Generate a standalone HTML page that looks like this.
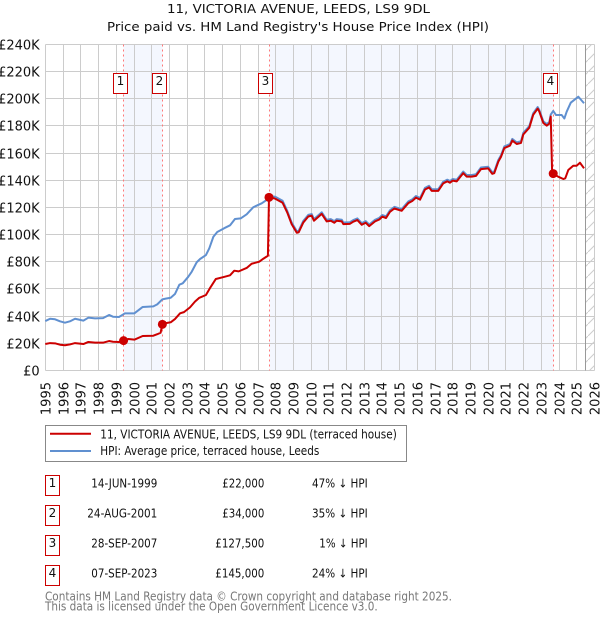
<!DOCTYPE html>
<html lang="en">
<head>
<meta charset="utf-8">
<title>11, Victoria Avenue, Leeds, LS9 9DL</title>
<style>
html,body{margin:0;padding:0;background:#fff;width:600px;height:620px;overflow:hidden}
svg{display:block}
text{font-family:"DejaVu Sans","Liberation Sans",sans-serif;fill:#111}
</style>
</head>
<body>
<svg id="chart" xmlns="http://www.w3.org/2000/svg" width="600" height="620" viewBox="0 0 600 620">
  <defs>
    <pattern id="hatch" patternUnits="userSpaceOnUse" width="12" height="12">
      <path d="M0 12L12 0" stroke="#ccc" stroke-width="1" fill="none"/>
    </pattern>
  </defs>
  <text x="167" y="13" font-size="12.8" textLength="263" lengthAdjust="spacingAndGlyphs">11, VICTORIA AVENUE, LEEDS, LS9 9DL</text>
  <text x="107" y="31" font-size="12.8" textLength="382" lengthAdjust="spacingAndGlyphs">Price paid vs. HM Land Registry's House Price Index (HPI)</text>
  <g id="plot"></g>

  <g>
    <rect x="45.5" y="425.5" width="361" height="36" fill="#fff" stroke="#888"/>
    <line x1="50" x2="91" y1="433.7" y2="433.7" stroke="#cc0000" stroke-width="2"/>
    <text x="100.3" y="438.3" font-size="12" textLength="296.5" lengthAdjust="spacingAndGlyphs">11, VICTORIA AVENUE, LEEDS, LS9 9DL (terraced house)</text>
    <line x1="50" x2="91" y1="451" y2="451" stroke="#6090d0" stroke-width="2"/>
    <text x="100.3" y="455" font-size="12" textLength="219" lengthAdjust="spacingAndGlyphs">HPI: Average price, terraced house, Leeds</text>
  </g>

  <g>
    <g>
      <rect x="45.5" y="475.5" width="14" height="20" fill="#fff" stroke="#c00"/>
      <text x="52.5" y="487" text-anchor="middle" font-size="12">1</text>
      <text x="91.3" y="487.5" font-size="12" textLength="66" lengthAdjust="spacingAndGlyphs">14-JUN-1999</text>
      <text x="222.3" y="487.5" font-size="12" textLength="42" lengthAdjust="spacingAndGlyphs">£22,000</text>
      <text x="312" y="487.5" font-size="12" textLength="55.7" lengthAdjust="spacingAndGlyphs">47% ↓ HPI</text>
    </g>
    <g>
      <rect x="45.5" y="505.5" width="14" height="20" fill="#fff" stroke="#c00"/>
      <text x="52.5" y="517" text-anchor="middle" font-size="12">2</text>
      <text x="87.3" y="517.5" font-size="12" textLength="70" lengthAdjust="spacingAndGlyphs">24-AUG-2001</text>
      <text x="222.3" y="517.5" font-size="12" textLength="42" lengthAdjust="spacingAndGlyphs">£34,000</text>
      <text x="312" y="517.5" font-size="12" textLength="55.7" lengthAdjust="spacingAndGlyphs">35% ↓ HPI</text>
    </g>
    <g>
      <rect x="45.5" y="535.5" width="14" height="20" fill="#fff" stroke="#c00"/>
      <text x="52.5" y="547" text-anchor="middle" font-size="12">3</text>
      <text x="91.3" y="547.5" font-size="12" textLength="66" lengthAdjust="spacingAndGlyphs">28-SEP-2007</text>
      <text x="215.3" y="547.5" font-size="12" textLength="49" lengthAdjust="spacingAndGlyphs">£127,500</text>
      <text x="319.3" y="547.5" font-size="12" textLength="48.4" lengthAdjust="spacingAndGlyphs">1% ↓ HPI</text>
    </g>
    <g>
      <rect x="45.5" y="565.5" width="14" height="20" fill="#fff" stroke="#c00"/>
      <text x="52.5" y="577" text-anchor="middle" font-size="12">4</text>
      <text x="91.3" y="577.5" font-size="12" textLength="66" lengthAdjust="spacingAndGlyphs">07-SEP-2023</text>
      <text x="215.3" y="577.5" font-size="12" textLength="49" lengthAdjust="spacingAndGlyphs">£145,000</text>
      <text x="312" y="577.5" font-size="12" textLength="55.7" lengthAdjust="spacingAndGlyphs">24% ↓ HPI</text>
    </g>
  </g>
  <text x="45" y="600.5" font-size="12" textLength="407" lengthAdjust="spacingAndGlyphs" style="fill:#777">Contains HM Land Registry data © Crown copyright and database right 2025.</text>
  <text x="45" y="610.5" font-size="12" textLength="332.7" lengthAdjust="spacingAndGlyphs" style="fill:#777">This data is licensed under the Open Government Licence v3.0.</text>
</svg>
<script>
const yearTicks = [1995,1996,1997,1998,1999,2000,2001,2002,2003,2004,2005,2006,2007,2008,2009,2010,2011,2012,2013,2014,2015,2016,2017,2018,2019,2020,2021,2022,2023,2024,2025,2026];
const priceTicks = [0,20,40,60,80,100,120,140,160,180,200,220,240];
const priceTickLabels = ['£0','£20K','£40K','£60K','£80K','£100K','£120K','£140K','£160K','£180K','£200K','£220K','£240K'];

const hpiYears = [1995.00,1995.27,1995.55,1995.83,1996.11,1996.39,1996.68,1997.15,1997.43,1997.81,1998.26,1998.60,1998.82,1999.16,1999.50,2000.03,2000.50,2001.10,2001.32,2001.61,2001.80,2002.08,2002.32,2002.57,2002.76,2003.07,2003.27,2003.55,2003.74,2004.07,2004.26,2004.49,2004.71,2005.09,2005.43,2005.71,2006.03,2006.37,2006.74,2007.22,2007.50,2007.63,2007.97,2008.40,2008.66,2008.91,2009.20,2009.31,2009.57,2009.85,2010.04,2010.17,2010.61,2010.89,2011.12,2011.32,2011.45,2011.74,2011.83,2012.20,2012.39,2012.62,2012.87,2013.09,2013.29,2013.62,2013.86,2014.03,2014.24,2014.46,2014.71,2015.12,2015.50,2015.72,2015.93,2016.16,2016.44,2016.67,2016.82,2017.19,2017.47,2017.70,2017.85,2018.00,2018.23,2018.60,2018.79,2019.08,2019.32,2019.60,2020.01,2020.24,2020.35,2020.58,2020.73,2020.92,2021.24,2021.37,2021.62,2021.86,2021.99,2022.33,2022.55,2022.80,2022.89,2023.12,2023.31,2023.46,2023.54,2023.68,2023.84,2024.16,2024.31,2024.44,2024.67,2024.91,2025.10,2025.42];
const hpiValues = [36.4,38.1,37.7,36.2,35.2,36.2,38.1,36.7,38.9,38.4,38.6,40.9,39.6,39.4,42.1,42.1,46.8,47.2,48.7,52.4,52.9,53.6,56.3,63.2,64.2,69,72.8,79.7,82.1,85,90,98.5,102,104.7,106.9,111.6,112,115,120.2,123.1,125.6,128.6,128,125,117.6,109,102.6,103,110.2,114.6,115.2,111.5,116.5,111,111.5,110,111.5,111,109,109.2,110.8,112,108.5,110,107.5,111,112.4,114.5,113.5,118,120.5,118.8,124.5,126,128.5,127,134.5,136,133.5,133.5,139,140.5,139.5,141,140.5,146.5,144,144,144.5,149.5,150,146,146.5,155,158.5,165,166.8,170.5,168,168.8,175,180,189.5,194,192,183.5,181.5,183,188.5,191.1,188.1,188.1,185.6,190.6,197.2,199.7,201.6,196.8];

const priceYears = [1995.00,1995.27,1995.55,1995.83,1996.11,1996.39,1996.68,1997.15,1997.43,1997.81,1998.26,1998.60,1998.82,1999.16,1999.42,1999.69,2000.03,2000.50,2001.10,2001.32,2001.51,2001.61,2001.85,2002.08,2002.32,2002.61,2002.83,2003.17,2003.45,2003.68,2004.07,2004.29,2004.63,2005.09,2005.43,2005.67,2005.92,2006.37,2006.65,2007.08,2007.31,2007.57,2007.63,2007.97,2008.40,2008.66,2008.91,2009.20,2009.31,2009.57,2009.85,2010.04,2010.17,2010.61,2010.89,2011.12,2011.32,2011.45,2011.74,2011.83,2012.20,2012.39,2012.62,2012.87,2013.09,2013.29,2013.62,2013.86,2014.03,2014.24,2014.46,2014.71,2015.12,2015.50,2015.72,2015.93,2016.16,2016.44,2016.67,2016.82,2017.19,2017.47,2017.70,2017.85,2018.00,2018.23,2018.60,2018.79,2019.08,2019.32,2019.60,2020.01,2020.24,2020.35,2020.58,2020.73,2020.92,2021.24,2021.37,2021.62,2021.86,2021.99,2022.33,2022.55,2022.80,2022.89,2023.12,2023.31,2023.46,2023.54,2023.62,2023.68,2023.96,2024.25,2024.36,2024.53,2024.81,2025.00,2025.19,2025.42];
const priceValues = [19.5,20.2,20,19,18.6,19.2,20.2,19.5,21,20.5,20.5,21.7,21.2,21,22,23.2,22.7,25.4,25.6,26.7,27.8,34,35,35.5,37.9,42.1,43,46.5,50.7,53.4,55.6,60.5,67.4,68.9,70.1,73.5,73,75.5,78.6,80.1,82.3,84.5,127.5,126.6,123.5,116.4,107.8,101.4,101.8,109,113.4,114,110.3,115.3,109.8,110.3,108.8,110.3,109.8,107.8,108,109.6,110.8,107.3,108.8,106.3,109.8,111.2,113.3,112.3,116.8,119.3,117.6,123.3,124.8,127.3,125.8,133.3,134.8,132.3,132.3,137.8,139.3,138.3,139.8,139.3,145.3,142.8,142.8,143.3,148.3,148.8,144.8,145.3,153.8,157.3,163.8,165.6,169.3,166.8,167.6,173.8,178.8,188.3,192.8,190.8,182.3,180.3,181.8,187,145,145,142.7,141,141.5,147.6,150.8,150.8,153,148.9];

const saleLabels = ['1','2','3','4'];
const saleYears = [1999.42,2001.61,2007.63,2023.68];
const salePrices = [22,34,127.5,145];
const shadedSpans = [[0,1],[2,3]];
const forecastStartYear = 2025.47;

const plot = document.getElementById('plot');
const NS = 'http://www.w3.org/2000/svg';
function mk(tag, attrs, text) {
  const el = document.createElementNS(NS, tag);
  for (const k in attrs) el.setAttribute(k, attrs[k]);
  if (text !== undefined) el.textContent = text;
  plot.appendChild(el);
  return el;
}
function xScale(year) { return 45.3 + (year - 1995) * 17.71; }
function yScale(k) { return 370.5 - k * 1.358; }
function xSnap(year) { return Math.floor(xScale(year) + 0.2) + 0.5; }
function ySnap(k) { return Math.floor(370.4 - k * 1.35825) + 0.5; }
const top_ = ySnap(240), bottom_ = ySnap(0), left_ = xSnap(1995), right_ = xSnap(2026);

shadedSpans.forEach(function (s) {
  const x1 = xSnap(saleYears[s[0]]), x2 = xSnap(saleYears[s[1]]);
  const r = mk('rect', {x: x1, y: top_, width: x2 - x1, height: bottom_ - top_, fill: '#f4f7fe'});
  
  
});

const hatch = mk('rect', {x: xSnap(forecastStartYear), y: top_, width: right_ - xSnap(forecastStartYear), height: bottom_ - top_, fill: 'url(#hatch)'});



yearTicks.forEach(function (yr) {
  const x = xSnap(yr);
  const g = mk('line', {x1: x, x2: x, y1: top_, y2: bottom_, stroke: '#ccc', 'stroke-width': 1});
  
  
  const t = mk('text', {x: 0, y: 0, 'font-size': 13, 'text-anchor': 'end', transform: 'translate(' + (x + 4.8) + ',382) rotate(-90)'}, String(yr));
  
  
});

priceTicks.forEach(function (v, i) {
  const y = ySnap(v);
  const g = mk('line', {x1: left_, x2: right_, y1: y, y2: y, stroke: '#ccc', 'stroke-width': 1});
  
  
  const t = mk('text', {x: 39.7, y: y + 4.8, 'font-size': 13, 'text-anchor': 'end'}, priceTickLabels[i]);
  
  
});

const forecastLine = mk('line', {x1: xSnap(forecastStartYear), x2: xSnap(forecastStartYear), y1: top_, y2: bottom_, stroke: '#999', 'stroke-width': 1});



saleYears.forEach(function (yr) {
  const l = mk('line', {x1: xSnap(yr), x2: xSnap(yr), y1: top_, y2: bottom_, stroke: '#f77', 'stroke-width': 1, 'stroke-dasharray': '2 3'});
  
  
});

function pathFrom(xs, ys) {
  return xs.map(function (yr, i) {
    return (i ? 'L' : 'M') + xScale(yr).toFixed(2) + ' ' + yScale(ys[i]).toFixed(2);
  }).join('');
}
const hpiLine = mk('path', {d: pathFrom(hpiYears, hpiValues), fill: 'none', stroke: '#6090d0', 'stroke-width': 2, 'stroke-linejoin': 'round'});


const priceLine = mk('path', {d: pathFrom(priceYears, priceValues), fill: 'none', stroke: '#cc0000', 'stroke-width': 2, 'stroke-linejoin': 'round'});



saleYears.forEach(function (yr, i) {
  const c = mk('circle', {cx: xScale(yr), cy: yScale(salePrices[i]), r: 4.5, fill: '#cc0000'});
  
  
  const bx = Math.floor(xScale(yr)) - 9.5;
  const box = mk('rect', {x: bx, y: 73.5, width: 14, height: 20, fill: '#fff', stroke: '#c00', 'stroke-width': 1});
  
  
  const t = mk('text', {x: bx + 7, y: 85, 'font-size': 12, 'text-anchor': 'middle'}, saleLabels[i]);
  
  
});
</script>
</body>
</html>
